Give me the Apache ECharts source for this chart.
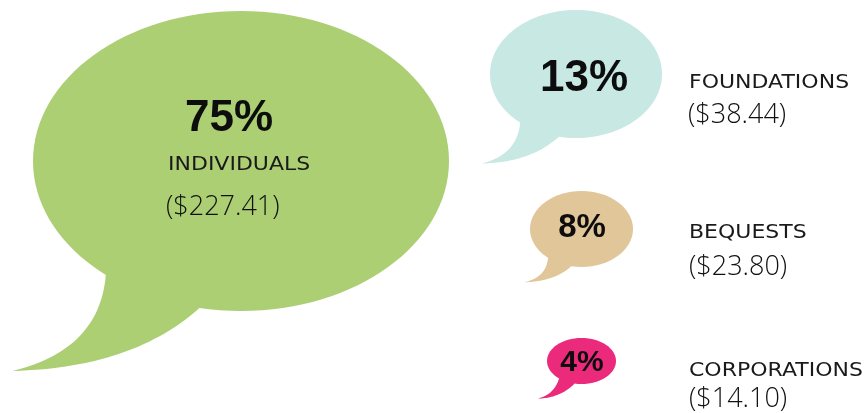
<!DOCTYPE html>
<html>
<head>
<meta charset="utf-8">
<script src="https://cdn.jsdelivr.net/npm/echarts@6/dist/echarts.min.js"></script>
<style>
  html, body { margin: 0; padding: 0; background: #ffffff; }
  #chart { width: 867px; height: 413px; }
</style>
</head>
<body>
<div id="chart"></div>
<script>
// Sources of giving
const categories = ['INDIVIDUALS', 'FOUNDATIONS', 'BEQUESTS', 'CORPORATIONS'];
const shares = [75, 13, 8, 4];              // percent of total
const amounts = [227.41, 38.44, 23.80, 14.10]; // dollars
const colors = ['#accf73', '#c8e8e4', '#e0c699', '#ec2a7c'];

// Speech-bubble layout in canvas units (hidden 0..867 x 0..413 grid)
const bubbleLayout = [
  { cx: 241,   cy: 161, rx: 208,  ry: 150, tailStretch: 1 },
  { cx: 576,   cy: 74,  rx: 86,   ry: 64,  tailStretch: 1 },
  { cx: 581.5, cy: 229, rx: 51.5, ry: 38,  tailStretch: 1 },
  { cx: 581.5, cy: 361, rx: 34.5, ry: 23,  tailStretch: 1.17 }
];
// Text anchors: percentage, category name, amount (alphabetic baselines)
const textLayout = [
  { px: 185, py: 132, pAlign: 'left',   pSize: 44, nx: 168, ny: 171, ax: 166, ay: 215 },
  { px: 584, py: 92,  pAlign: 'center', pSize: 44, nx: 689, ny: 89,  ax: 688, ay: 123 },
  { px: 582, py: 238, pAlign: 'center', pSize: 33, nx: 689, ny: 239, ax: 689, ay: 275 },
  { px: 582, py: 372, pAlign: 'center', pSize: 30, nx: 689, ny: 377, ax: 689, ay: 407 }
];
const NAME_SIZE = 20, AMOUNT_SIZE = 27;

// Tail shape relative to the ellipse radii
const tail = {
  left:  [-0.65, 0.76],
  ctrlL: [-0.68, 1.26],
  tip:   [-1.10, 1.40],
  ctrlR: [-0.52, 1.38],
  right: [-0.20, 0.98]
};

function quad(p0, c, p1, n) {
  const pts = [];
  for (let k = 0; k <= n; k++) {
    const t = k / n, u = 1 - t;
    pts.push([u * u * p0[0] + 2 * u * t * c[0] + t * t * p1[0],
              u * u * p0[1] + 2 * u * t * c[1] + t * t * p1[1]]);
  }
  return pts;
}

// Text is laid out from its top edge; shift by the font's ascent to sit on the baseline
function topFromBaseline(y, size, ascent) { return y - size * ascent; }

function renderItem(params, api) {
  const i = params.dataIndex;
  const L = bubbleLayout[i];
  const T = textLayout[i];
  const c = api.coord([L.cx, L.cy]);
  const r = api.size([L.rx, L.ry]);
  const rx = r[0], ry = r[1];
  const at = (p, s) => [c[0] + p[0] * rx * (s || 1), c[1] + p[1] * ry * (s || 1)];
  const s = L.tailStretch;
  const pts = quad(at(tail.left), at(tail.ctrlL, s), at(tail.tip, s), 30)
    .concat(quad(at(tail.tip, s), at(tail.ctrlR, s), at(tail.right), 30).slice(1));
  pts.push([c[0], c[1]]);

  const pct = api.value(1);
  const pp = api.coord([T.px, T.py]);
  const np = api.coord([T.nx, T.ny]);
  const ap = api.coord([T.ax, T.ay]);

  return {
    type: 'group',
    children: [
      { type: 'ellipse', shape: { cx: c[0], cy: c[1], rx: rx, ry: ry },
        style: { fill: colors[i] } },
      { type: 'polygon', shape: { points: pts }, style: { fill: colors[i] } },
      { type: 'text', x: pp[0], y: topFromBaseline(pp[1], T.pSize, 0.81),
        style: { text: pct + '%', fill: '#0d0d0d', textAlign: T.pAlign,
                 textVerticalAlign: 'top',
                 font: 'bold ' + T.pSize + 'px "Liberation Sans", Arial, sans-serif' } },
      { type: 'text', x: np[0], y: topFromBaseline(np[1], NAME_SIZE, 0.8), scaleX: 1.1,
        style: { text: categories[i], fill: '#1a1a1a', textAlign: 'left',
                 textVerticalAlign: 'top',
                 font: NAME_SIZE + 'px "DejaVu Sans", sans-serif' } },
      { type: 'text', x: ap[0], y: topFromBaseline(ap[1], AMOUNT_SIZE, 0.785),
        style: { text: '($' + amounts[i].toFixed(2) + ')', fill: '#111111', textAlign: 'left',
                 textVerticalAlign: 'top',
                 font: '300 ' + AMOUNT_SIZE + 'px "Open Sans", "Liberation Sans", sans-serif' } }
    ]
  };
}

const chart = echarts.init(document.getElementById('chart'), null, { renderer: 'canvas' });
chart.setOption({
  animation: false,
  backgroundColor: '#ffffff',
  grid: { left: 0, right: 0, top: 0, bottom: 0 },
  xAxis: { type: 'value', min: 0, max: 867, show: false },
  yAxis: { type: 'value', min: 0, max: 413, inverse: true, show: false },
  series: [{
    type: 'custom',
    renderItem: renderItem,
    data: shares.map((v, i) => [i, v])
  }]
});
</script>
</body>
</html>
